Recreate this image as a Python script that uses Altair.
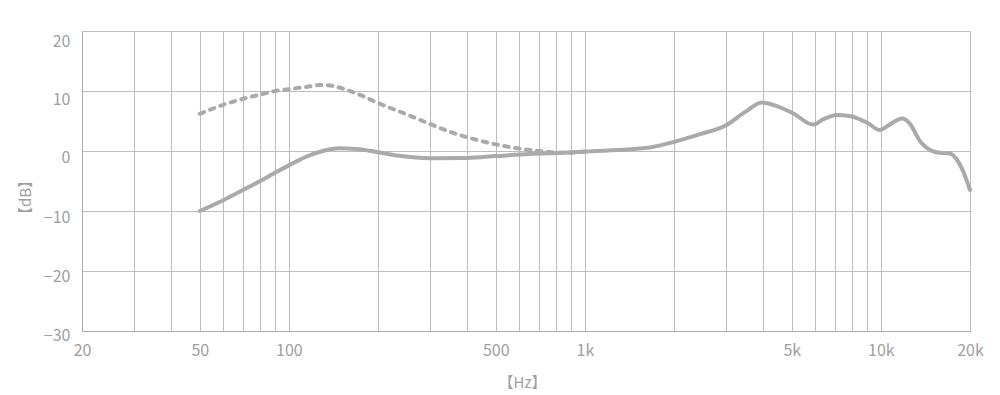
import altair as alt
import pandas as pd

# Frequency response (Hz, dB)
solid_hz = [50, 60, 70, 80, 90, 100, 115, 130, 148, 169, 200, 236, 300, 400, 500, 650, 840,
            1100, 1660, 2030, 2450, 3000, 3500, 3960, 4320, 5050, 5900, 6400, 7100, 7900,
            9000, 9900, 10700, 11800, 12500, 13600, 14600, 15800, 17100, 18100, 18900, 20000]
solid_db = [-10.0, -8.2, -6.5, -5.0, -3.6, -2.4, -0.9, 0.0, 0.45, 0.35, -0.2, -0.8, -1.2, -1.15, -0.85, -0.5, -0.3,
            0.0, 0.6, 1.6, 2.8, 4.3, 6.6, 8.1, 7.7, 6.3, 4.4, 5.3, 6.0, 5.8,
            4.7, 3.5, 4.4, 5.4, 4.6, 1.55, 0.2, -0.3, -0.4, -1.5, -3.2, -6.5]

dashed_hz = [50, 60, 70, 80, 90, 100, 115, 127, 138, 152, 169, 200, 250, 300, 350, 400, 500, 600, 700, 850, 1000]
dashed_db = [6.2, 7.7, 8.7, 9.4, 10.0, 10.3, 10.7, 11.0, 10.9, 10.4, 9.6, 8.0, 6.1, 4.5, 3.2, 2.3, 1.1, 0.4, 0.0, -0.3, -0.1]

grid_hz = [20, 30, 40, 50, 60, 70, 80, 90,
           100, 200, 300, 400, 500, 600, 700, 800, 900,
           1000, 2000, 3000, 4000, 5000, 6000, 7000, 8000, 9000,
           10000, 20000]
label_hz = [20, 50, 100, 500, 1000, 5000, 10000, 20000]
y_ticks = [-30, -20, -10, 0, 10, 20]

df = pd.concat([
    pd.DataFrame({"hz": solid_hz, "db": solid_db, "series": "solid"}),
    pd.DataFrame({"hz": dashed_hz, "db": dashed_db, "series": "dashed"}),
])

FONT = "Noto Sans CJK JP"
TXT = "#a0a0a0"
GRID = "#bdbdbd"
LINE = "#aaaaaa"

label_list = ",".join(str(v) for v in label_hz)
label_expr = (f"indexof([{label_list}], datum.value) >= 0 ? "
              "(datum.value >= 1000 ? (datum.value/1000) + 'k' : datum.value + '') : ''")

x_enc = alt.X("hz:Q",
              scale=alt.Scale(type="log", domain=[20, 20000], nice=False),
              axis=alt.Axis(values=grid_hz, labelExpr=label_expr, labelOverlap=False,
                            labelFlush=False, ticks=False, grid=True, gridColor=GRID,
                            domainColor="#aaaaaa", labelColor=TXT, labelFont=FONT,
                            labelFontSize=16, labelPadding=11,
                            title="【Hz】", titleFont=FONT, titleFontSize=15,
                            titleFontWeight="normal", titleColor=TXT,
                            titleX=440, titleY=51, titleBaseline="middle", titleAlign="center"))

y_enc = alt.Y("db:Q",
              scale=alt.Scale(domain=[-30, 20], nice=False),
              axis=alt.Axis(values=y_ticks, ticks=False, grid=True, gridColor=GRID,
                            domainColor="#aaaaaa", labelColor=TXT, labelFont=FONT,
                            labelFontSize=16, labelPadding=12, labelBaseline="middle",
                            labelOffset={"condition": [
                                {"test": "datum.value == 20", "value": 10},
                                {"test": "datum.value == 10", "value": 8},
                                {"test": "datum.value == 0", "value": 6.5},
                                {"test": "datum.value == -10", "value": 6.5},
                                {"test": "datum.value == -20", "value": 5.5}],
                                "value": 4},
                            title="【dB】", titleFont=FONT, titleFontSize=15,
                            titleFontWeight="normal", titleColor=TXT,
                            titleX=-57, titleY=166, titleBaseline="middle", titleAlign="center",
                            titleAngle=270))

solid = alt.Chart(df).transform_filter("datum.series == 'solid'").mark_line(
    color=LINE, strokeWidth=4, interpolate="monotone", strokeCap="round"
).encode(x=x_enc, y=y_enc, order="hz:Q")

dashed = alt.Chart(df).transform_filter("datum.series == 'dashed'").mark_line(
    color=LINE, strokeWidth=4, interpolate="monotone", strokeCap="round",
    strokeDash=[4.5, 6.5]
).encode(x=x_enc, y=y_enc, order="hz:Q")

chart = alt.layer(dashed, solid).properties(
    width=888, height=300,
    autosize=alt.AutoSizeParams(type="none"),
    padding={"left": 74, "top": 23, "right": 22, "bottom": 60},
).configure_view(stroke=None).configure(background="white")

chart.save("out.html", embed_options={"renderer": "svg", "actions": False})
